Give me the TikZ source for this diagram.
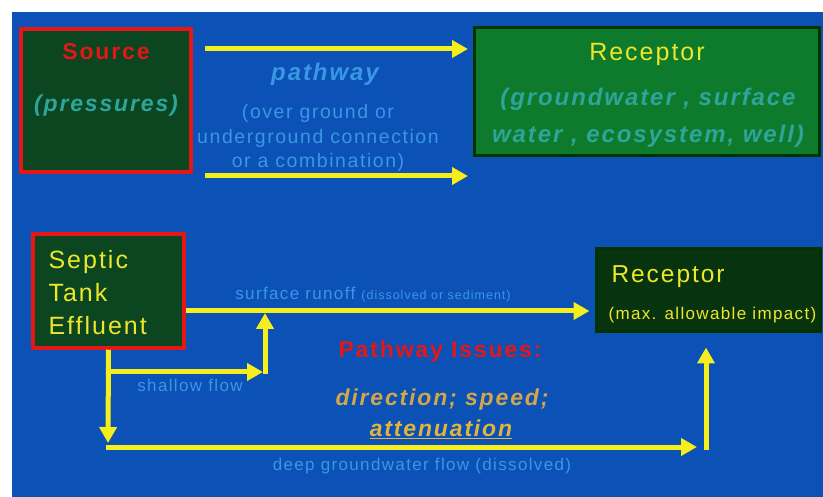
\documentclass[tikz,border=0pt]{standalone}
\usepackage{fontspec}
\setmainfont{Liberation Sans}[LetterSpace=8]
\usetikzlibrary{arrows.meta}
\definecolor{bgblue}{HTML}{0B51B6}
\definecolor{darkgreen}{HTML}{0B4620}
\definecolor{midgreen}{HTML}{0E7A2C}
\definecolor{deepgreen}{HTML}{07340F}
\definecolor{redline}{HTML}{E51616}
\definecolor{arrowyellow}{HTML}{F6EE1C}
\definecolor{lightbluetext}{HTML}{3A97E4}
\definecolor{tealtext}{HTML}{2EA59A}
\definecolor{yellowtext}{HTML}{EEE62A}
\definecolor{goldtext}{HTML}{D2A64A}
\definecolor{goldtext2}{HTML}{E2B43C}
\tikzset{
  redbox/.style={draw=redline, line width=3.5pt, fill=darkgreen, inner sep=0pt},
  recbox/.style={draw=black!80!green, line width=3pt, inner sep=0pt},
  arr/.style={draw=arrowyellow, line width=5pt, -{Triangle[length=16pt,width=17pt]}},
  bluelbl/.style={text=lightbluetext, inner sep=0pt},
  fs/.style={font=\fontsize{#1}{#1}\selectfont},
  fsb/.style={font=\fontsize{#1}{#1}\selectfont\bfseries},
  fsbi/.style={font=\fontsize{#1}{#1}\selectfont\bfseries\itshape}
}
\begin{document}
\begin{tikzpicture}[x=1pt,y=-1pt]
\useasboundingbox (0,0) rectangle (823,497);
\fill[white] (0,0) rectangle (823,497);
\fill[bgblue] (12,12) rectangle (823,497);

% ---- top row ----
\node[redbox, minimum width=170pt, minimum height=143pt] (src) at (106,100.5) {};
\node[recbox, fill=midgreen, minimum width=345pt, minimum height=128pt] (rec1) at (646.5,92) {};

\node[text=redline, fsb=23] (srcT) at (106,52) {Source};
\node[text=tealtext, fsbi=23] (presT) at (106,106) {(pressures)};

\node[text=yellowtext, fs=25] (rec1T) at (647,54) {Receptor};
\node[text=tealtext, fsbi=24, align=center, execute at begin node={\baselineskip=37pt}] (rec1S) at (648,118) {(groundwater , surface\\water , ecosystem, well)};

\node[bluelbl, fsbi=24] (pathT) at (325,74) {pathway};
\node[bluelbl, fs=19.5, align=center, execute at begin node={\baselineskip=24.5pt}] (pathS) at (318,138) {(over ground or\\underground connection\\or a combination)};

\coordinate (a1s) at (205,49);
\coordinate (a1e) at (468,49);
\coordinate (a2s) at (205,176);
\coordinate (a2e) at (468,176);
\draw[arr] (a1s) -- (a1e);
\draw[arr] (a2s) -- (a2e);

% ---- bottom row ----
\node[redbox, minimum width=151pt, minimum height=114pt] (sep) at (108.5,291) {};
\node[recbox, fill=deepgreen, minimum width=224pt, minimum height=83pt] (rec2) at (708,290.5) {};

\node[text=yellowtext, fs=25, anchor=west, align=left, execute at begin node={\baselineskip=33pt}] (sepT) at (45,293) {Septic\\Tank\\Effluent};
\node[text=yellowtext, fs=24.5, anchor=west] (rec2T) at (608,277) {Receptor};
\node[text=yellowtext, fs=17, anchor=west] (rec2S) at (605,315) {(max. allowable impact)};

\node[bluelbl, fs=17] (surfT) at (373,295) {surface runoff {\fontsize{12.5}{12.5}\selectfont (dissolved or sediment)}};
\node[bluelbl, fs=17] (shalT) at (190,385) {shallow flow};
\node[bluelbl, fs=17] (deepT) at (422,466) {deep groundwater flow (dissolved)};

\node[text=redline, fsb=23] (issT) at (440,352) {Pathway Issues:};
\node[text=goldtext, fsbi=23] (dirT) at (442,400) {direction; speed;};
\node[text=goldtext2, fsbi=23] (attT) at (441,429) {\underline{attenuation}};

% connectors
\coordinate (j1) at (108,372);
\coordinate (j2) at (265,372);
\coordinate (j3) at (265,313);
\coordinate (d1) at (108,447);
\coordinate (d2) at (706,447);

\draw[arr] ([yshift=-20pt]sep.east) -- ([yshift=-20pt, xshift=-5pt]sep.east -| rec2.west);
\draw[arr] (sep.south) -- ([yshift=4pt]d1);
\draw[arr] (j1) -- ([xshift=-2pt]j2);
\draw[arr] ([yshift=-2.5pt]j2) -- (j3);
\draw[arr] ([xshift=-2.5pt]d1) -- ([xshift=-9pt]d2);
\draw[arr] ([yshift=-2.5pt]d2) -- ([yshift=-14pt]rec2.south -| d2);
\end{tikzpicture}
\end{document}
